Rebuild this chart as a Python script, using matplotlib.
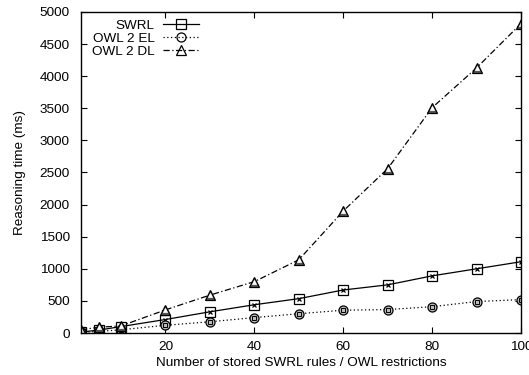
import matplotlib
matplotlib.use("Agg")
import matplotlib.pyplot as plt
from matplotlib.lines import Line2D

plt.rcParams['font.family'] = ['Liberation Sans', 'DejaVu Sans']

x = [1, 5, 10, 20, 30, 40, 50, 60, 70, 80, 90, 100]
swrl = [15, 45, 100, 210, 330, 440, 535, 670, 750, 890, 1000, 1110]
owl_el = [10, 25, 50, 120, 175, 240, 300, 355, 365, 410, 490, 520]
owl_dl = [50, 90, 110, 360, 590, 800, 1140, 1900, 2560, 3510, 4130, 4820]

xticks = [20, 40, 60, 80, 100]
yticks = [0, 500, 1000, 1500, 2000, 2500, 3000, 3500, 4000, 4500, 5000]

FS = 9.7

fig = plt.figure(figsize=(5.29, 3.75), dpi=100)
ax = fig.add_axes([0.153, 0.112, 0.832, 0.856])

ls1 = '-'
ls2 = (0, (1, 2))
ls3 = (0, (5, 2, 1, 2))

ax.plot(x, swrl, color='black', lw=0.9, ls=ls1, marker='s', ms=6.5,
        mfc='none', mec='black', mew=0.9)
ax.plot(x, swrl, ls='none', marker='x', ms=3, mec='black', mew=0.9)

ax.plot(x, owl_el, color='black', lw=0.9, ls=ls2, marker='o', ms=6.5,
        mfc='#bbbbbb', mec='black', mew=0.9)
ax.plot(x, owl_el, ls='none', marker='s', ms=3, mfc='none', mec='black', mew=0.7)

ax.plot(x, owl_dl, color='black', lw=0.9, ls=ls3, marker='^', ms=7,
        mfc='#555555', mec='black', mew=0.9)
ax.plot(x, owl_dl, ls='none', marker='^', ms=3, mfc='white', mec='white', mew=0.5)

ax.set_xlim(1, 100)
ax.set_ylim(0, 5000)
ax.set_xticks(xticks)
ax.set_yticks(yticks)
ax.tick_params(direction='in', top=True, right=True, length=4, width=0.8,
               labelsize=FS)
ax.tick_params(axis='y', pad=8)
ax.tick_params(axis='x', pad=6)
for s in ax.spines.values():
    s.set_linewidth(1.0)

ax.set_xlabel('Number of stored SWRL rules / OWL restrictions', fontsize=FS, labelpad=3)
ax.set_ylabel('Reasoning time (ms)', fontsize=FS, labelpad=10)

h1 = Line2D([], [], color='black', lw=0.9, ls=ls1, marker='s', ms=6.5, mfc='none', mew=0.9)
h2 = Line2D([], [], color='black', lw=0.9, ls=ls2, marker='o', ms=6.5, mfc='none', mew=0.9)
h3 = Line2D([], [], color='black', lw=0.9, ls=ls3, marker='^', ms=7, mfc='none', mew=0.9)
leg = ax.legend(handles=[h1, h2, h3], labels=['SWRL', 'OWL 2 EL', 'OWL 2 DL'],
                loc='upper left', bbox_to_anchor=(0.008, 1.0),
                markerfirst=False, frameon=False, fontsize=FS, handlelength=2.7,
                handletextpad=0.6, labelspacing=0.05, borderaxespad=0.15)

fig.savefig('out.png', dpi=100)
